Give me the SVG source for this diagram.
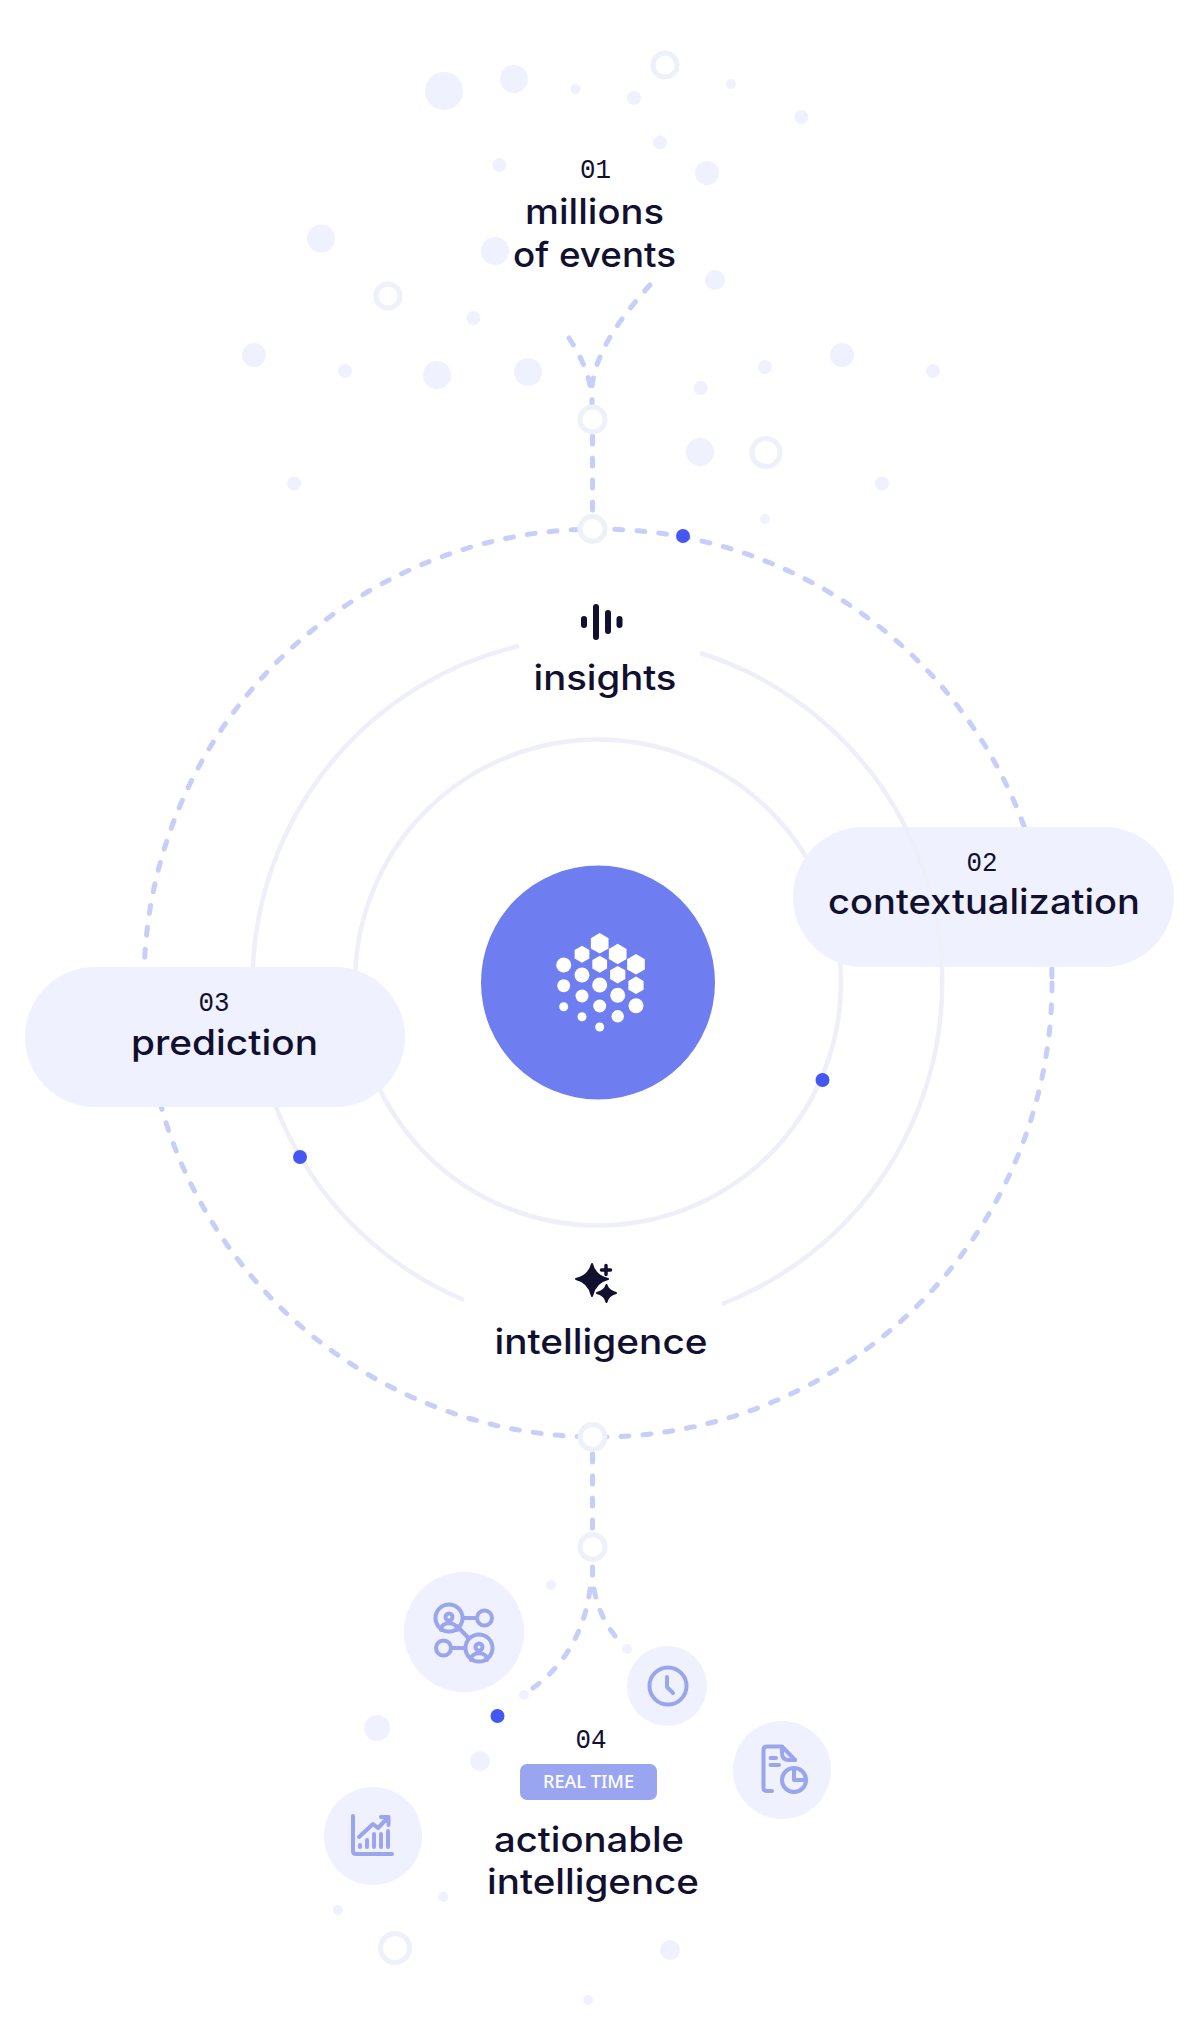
<svg xmlns="http://www.w3.org/2000/svg" width="1200" height="2042" viewBox="0 0 1200 2042">
<style>
.d{fill:#eff1fe}
.r{fill:#fff;stroke:#eef0fa;stroke-width:5}
.sr{fill:#fff;stroke:#eef0fa;stroke-width:5}
.ring{fill:none;stroke:#eeeff9;stroke-width:4.500}
.dash{fill:none;stroke:#c8cefa;stroke-width:5;stroke-linecap:round;stroke-dasharray:8 14}
.b{fill:#4457f2}
.pill{fill:#eff1fe}
.t{font-family:"Inter","Noto Sans",sans-serif;font-weight:500;font-size:35px;fill:#12102f;text-anchor:middle}
.n{font-family:"Liberation Mono","DejaVu Sans Mono",monospace;font-size:28px;fill:#12102f;text-anchor:middle}
.ic{fill:none;stroke:#9aa5ec;stroke-width:4;stroke-linecap:round;stroke-linejoin:round}
.l{fill:#fff}
</style>
<defs>
<polygon id="hex" points="0,-1 .866,-.5 .866,.5 0,1 -.866,.5 -.866,-.5"/>
</defs>
<g id="particles-top">
<circle class="d" cx="444" cy="91" r="19"/><circle class="d" cx="514" cy="79" r="14"/><circle class="d" cx="575.5" cy="89" r="5"/><circle class="r" cx="665" cy="65" r="12"/><circle class="d" cx="634" cy="98" r="7"/><circle class="d" cx="731" cy="84" r="5"/><circle class="d" cx="801.500" cy="117" r="7"/><circle class="d" cx="660" cy="142.500" r="7"/><circle class="d" cx="499.500" cy="165" r="7"/><circle class="d" cx="707" cy="173" r="12"/><circle class="d" cx="321" cy="238.500" r="14"/><circle class="d" cx="495" cy="251" r="14"/><circle class="d" cx="715" cy="280" r="10"/><circle class="r" cx="388" cy="296" r="12"/><circle class="d" cx="473.500" cy="318" r="7"/><circle class="d" cx="254" cy="355" r="12"/><circle class="d" cx="345" cy="371" r="7"/><circle class="d" cx="437" cy="375" r="14"/><circle class="d" cx="528" cy="372" r="14"/><circle class="d" cx="765" cy="367" r="7"/><circle class="d" cx="700.500" cy="388" r="7"/><circle class="d" cx="842" cy="355" r="12"/><circle class="d" cx="933" cy="371" r="7"/><circle class="d" cx="700" cy="452" r="14"/><circle class="r" cx="766" cy="452.500" r="14"/><circle class="d" cx="294" cy="483.500" r="7"/><circle class="d" cx="882" cy="483.500" r="7"/><circle class="d" cx="765" cy="519" r="5"/>
</g>
<g id="particles-bottom">
<circle class="d" cx="551" cy="1585" r="5"/><circle class="d" cx="627" cy="1649" r="5"/><circle class="d" cx="524" cy="1695" r="5"/><circle class="d" cx="377" cy="1728" r="13"/><circle class="d" cx="480" cy="1761" r="10"/><circle class="d" cx="443" cy="1897" r="5"/><circle class="d" cx="338" cy="1910" r="5"/><circle class="r" cx="395" cy="1948" r="14.500"/><circle class="d" cx="670" cy="1950" r="10"/><circle class="d" cx="588" cy="2000" r="5"/>
</g>
<g id="connectors">
<circle class="ring" cx="598" cy="982.500" r="243"/>
<circle class="dash" cx="598" cy="983" r="454"/>
<path class="dash" d="M650 285C620 318 596 352 592 386L592 408"/>
<path class="dash" d="M569 338C580 355 588 372 590 386"/>
<path class="dash" d="M592.500 436V512"/>
<path class="dash" d="M592.500 1454V1530"/>
<path class="dash" d="M592.500 1567V1577"/>
<path class="dash" d="M594 1589C598 1610 606 1625 616 1637"/>
<path class="dash" d="M590 1589C585 1630 565 1665 533 1688"/>
<path class="ring" d="M464 1300A345 345 0 0 1 519 646"/>
</g>
<g id="pill-prediction"><rect class="pill" x="25" y="967" width="380" height="140" rx="70"/></g>
<g id="pill-contextualization"><rect class="pill" x="793" y="827" width="381" height="140" rx="70"/></g>
<g id="ring-middle-right"><path class="ring" d="M700 653A345 345 0 0 1 722 1304"/></g>
<g id="joints">
<circle class="sr" cx="592.500" cy="419.500" r="12.500"/>
<circle class="sr" cx="592.500" cy="529" r="12.500"/>
<circle class="sr" cx="592.500" cy="1437" r="12.500"/>
<circle class="sr" cx="592.500" cy="1547" r="12.500"/>
</g>
<g id="pulses">
<circle class="b" cx="683" cy="536" r="7"/><circle class="b" cx="822.500" cy="1080" r="7"/><circle class="b" cx="300" cy="1157" r="7"/><circle class="b" cx="497.500" cy="1716" r="7"/>
</g>
<g id="node-core">
<circle cx="598" cy="982.500" r="117" fill="#6e7ef0"/>
<g class="l">
<circle cx="563.700" cy="965" r="7.500"/><circle cx="563.700" cy="985.700" r="6.500"/><circle cx="563.700" cy="1006.700" r="4.500"/>
<use href="#hex" transform="translate(582 954.300) scale(8.500)"/><circle cx="582" cy="975" r="7.500"/><circle cx="582" cy="996" r="6.500"/><circle cx="582" cy="1016.700" r="4.500"/>
<use href="#hex" transform="translate(599.700 943.300) scale(10.200)"/><use href="#hex" transform="translate(599.700 964.300) scale(8.500)"/><circle cx="599.700" cy="985" r="7.500"/><circle cx="599.700" cy="1006" r="6.500"/><circle cx="599.700" cy="1027" r="4.500"/>
<use href="#hex" transform="translate(617.700 954) scale(10.200)"/><use href="#hex" transform="translate(617.700 974.700) scale(8.800)"/><circle cx="617.700" cy="995.300" r="7.500"/><circle cx="617.700" cy="1016.300" r="6.200"/>
<use href="#hex" transform="translate(636 964.300) scale(10.200)"/><use href="#hex" transform="translate(636 985.300) scale(8.800)"/><circle cx="636" cy="1005.700" r="7.500"/>
</g>
</g>
<g id="node-01">
<text class="n" x="595.500" y="178" textLength="31" lengthAdjust="spacingAndGlyphs">01</text>
<text class="t" x="594.500" y="224" textLength="139" lengthAdjust="spacingAndGlyphs">millions</text>
<text class="t" x="594.500" y="267" textLength="163" lengthAdjust="spacingAndGlyphs">of events</text>
</g>
<g id="node-02">
<text class="n" x="982" y="871" textLength="31" lengthAdjust="spacingAndGlyphs">02</text>
<text class="t" x="984" y="914" textLength="312" lengthAdjust="spacingAndGlyphs">contextualization</text>
</g>
<g id="node-03">
<text class="n" x="214" y="1011" textLength="31" lengthAdjust="spacingAndGlyphs">03</text>
<text class="t" x="224.500" y="1055" textLength="187" lengthAdjust="spacingAndGlyphs">prediction</text>
</g>
<g id="node-insights">
<g stroke="#12102f" stroke-width="6" stroke-linecap="round" fill="none">
<path d="M584 619V625M596 607V637M608 613V631M619.500 619V625"/>
</g>
<text class="t" x="605" y="690" textLength="143" lengthAdjust="spacingAndGlyphs">insights</text>
</g>
<g id="node-intelligence">
<g fill="#12102f" stroke="#12102f" stroke-width="2" stroke-linejoin="round">
<path d="M592 1264Q595 1276 608 1279Q595 1282 592 1296Q589 1282 576 1279Q589 1276 592 1264Z"/>
<path d="M606.500 1285Q608 1291 616 1293Q608 1295 606.500 1302Q605 1295 597 1293Q605 1291 606.500 1285Z"/>
</g>
<path d="M606 1265.500V1274.500M601.500 1270H610.500" stroke="#12102f" stroke-width="3.500" stroke-linecap="round"/>
<text class="t" x="601" y="1354" textLength="213" lengthAdjust="spacingAndGlyphs">intelligence</text>
</g>
<g id="node-04">
<text class="n" x="591" y="1748" textLength="31" lengthAdjust="spacingAndGlyphs">04</text>
<rect x="520" y="1764" width="137" height="36" rx="7" fill="#9aa5f2"/>
<text x="588.500" y="1788" font-family="'Noto Sans','Inter',sans-serif" font-size="18" font-weight="500" fill="#fff" text-anchor="middle" textLength="91" lengthAdjust="spacingAndGlyphs">REAL TIME</text>
<text class="t" x="589" y="1852" textLength="190" lengthAdjust="spacingAndGlyphs">actionable</text>
<text class="t" x="593" y="1894" textLength="212" lengthAdjust="spacingAndGlyphs">intelligence</text>
</g>
<g id="icon-network">
<circle class="d" cx="464" cy="1632" r="60"/>
<g class="ic">
<circle cx="449" cy="1618" r="13.500"/><circle cx="484.500" cy="1618" r="7.500"/><circle cx="443.500" cy="1648" r="7.500"/><circle cx="479" cy="1648" r="13.500"/>
<path d="M463.500 1618H476.500M452 1648H465M457 1626L468.500 1638"/>
<circle cx="449" cy="1617" r="3.500"/><path d="M441 1630C441 1621 457 1621 457 1630"/>
<circle cx="479" cy="1647" r="3.500"/><path d="M471 1660C471 1651 487 1651 487 1660"/>
</g>
</g>
<g id="icon-clock">
<circle class="d" cx="667" cy="1686" r="40"/>
<g class="ic"><circle cx="668" cy="1686" r="18.500"/><path d="M667 1677V1687L673 1693"/></g>
</g>
<g id="icon-report">
<circle class="d" cx="782" cy="1770" r="49"/>
<g class="ic">
<path d="M772 1791H767Q763.500 1791 763.500 1788V1750Q763.500 1746.500 767 1746.500H782L795 1760"/>
<path d="M782 1747V1753Q782 1760 789 1760H795"/>
<path d="M770.500 1758H776M770.500 1765H779"/>
<circle cx="794" cy="1780" r="12"/><path d="M794 1769V1780H805"/>
</g>
</g>
<g id="icon-chart">
<circle class="d" cx="373" cy="1836" r="49"/>
<g class="ic">
<path d="M353 1816V1851Q353 1854 356 1854H392"/>
<path d="M360 1845V1847M367 1840V1847M374 1834V1847M381 1834V1847M388 1831V1847"/>
<path d="M359 1837L373 1824L378 1828L388.500 1817M381 1817H388.500V1825"/>
</g>
</g>
</svg>
